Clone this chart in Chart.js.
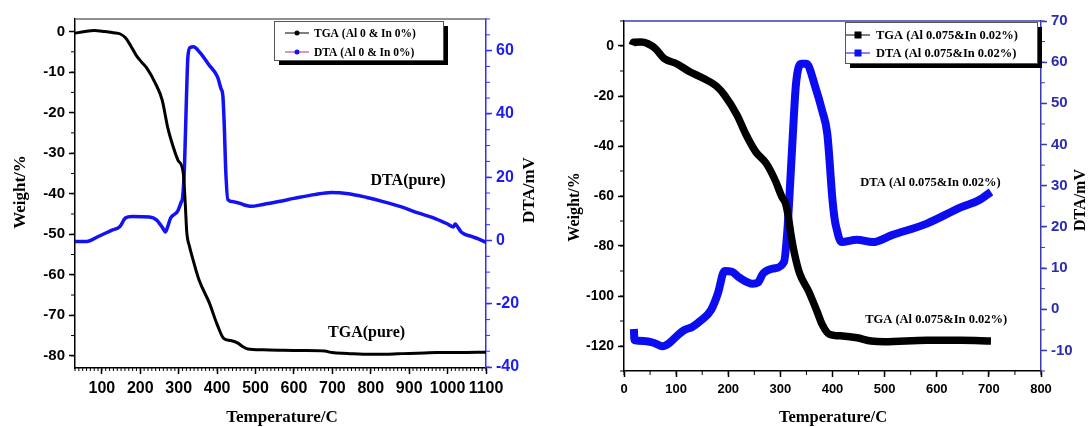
<!DOCTYPE html>
<html>
<head>
<meta charset="utf-8">
<script src="https://cdn.jsdelivr.net/npm/chart.js@4.4.1/dist/chart.umd.min.js"></script>
<style>
    html, body { margin: 0; padding: 0; background: #fff; }
    #wrap { position: relative; width: 1088px; height: 427px; overflow: hidden; }
    .panel { position: absolute; top: 0; width: 544px; height: 427px; }
</style>
</head>
<body>
<div id="wrap">
    <div class="panel" style="left:0"><canvas id="pureChart" width="544" height="427"></canvas></div>
    <div class="panel" style="left:544px"><canvas id="dopedChart" width="544" height="427"></canvas></div>
</div>
<script>
// ---- pure sample (Al 0 & In 0%) ----
const pureTgaTemp = [30, 55, 80, 107, 130, 148, 162, 175, 189, 203, 217, 239, 257, 271, 280, 298, 312, 317, 321, 328, 335, 353, 380, 399, 417, 435, 453, 468, 480, 520, 562, 620, 680, 699, 740, 781, 835, 870, 899, 940, 972, 1030, 1100];
const pureTgaWeight = [-0.4, 0, 0.25, 0, -0.3, -0.6, -1.6, -3.5, -5.8, -7.5, -9, -12.7, -16.9, -23.5, -26.7, -31.7, -35, -42.4, -49.5, -53, -55.5, -61.3, -67, -72, -75.7, -76.2, -76.8, -77.8, -78.3, -78.5, -78.6, -78.7, -78.8, -79.2, -79.4, -79.6, -79.6, -79.5, -79.4, -79.3, -79.2, -79.2, -79.1];
const pureDtaTemp = [30, 61, 88, 125, 147, 161, 179, 224, 242, 258, 265, 270, 279, 297, 306, 310, 315, 320, 324, 330, 338, 356, 378, 401, 410, 415, 419, 422, 428, 445, 469, 487, 520, 560, 600, 652, 697, 742, 790, 832, 880, 923, 960, 1000, 1015, 1020, 1025, 1036, 1062, 1080, 1100];
const pureDtaSignal = [-0.3, -0.3, 1.1, 3.2, 4.4, 7.1, 7.6, 7.4, 6.5, 4, 2.7, 3.9, 7.1, 9.2, 12, 13.5, 23.4, 44.5, 58.2, 61, 61.2, 59.3, 55.6, 51.7, 48, 45.6, 35, 23.4, 12.9, 12.2, 11.3, 10.8, 11.4, 12.3, 13.3, 14.5, 15.2, 14.8, 13.6, 12.3, 10.6, 8.7, 7.3, 5.2, 4.3, 5.2, 4.5, 2.6, 1.3, 0.5, -0.6];

// ---- doped sample (Al 0.075 & In 0.02%) ----
const dopedTgaTemp = [16, 18, 33, 46, 60, 77, 100, 127, 153, 177, 193, 217, 233, 253, 273, 290, 303, 310, 315, 320, 327, 337, 354, 370, 380, 394, 420, 447, 474, 500, 581, 647, 704];
const dopedTgaWeight = [0.3, 1.5, 1.6, 0.9, -1, -5, -7, -10.4, -13, -16, -19.7, -27.7, -35, -42.4, -47, -53.7, -60.4, -63, -68, -75, -83, -91, -98, -106, -111.3, -115.3, -116, -116.7, -118, -118.3, -117.7, -117.7, -118];
const dopedDtaTemp = [19, 20, 38, 58, 74, 87, 103, 115, 131, 148, 167, 180, 193, 207, 220, 247, 257, 267, 287, 307, 313, 317, 324, 330, 340, 350, 367, 380, 390, 400, 404, 407, 417, 447, 477, 514, 581, 647, 681, 704];
const dopedDtaSignal = [-4.8, -7.5, -7.7, -8.2, -9, -8.2, -6.3, -5.1, -4.3, -2.7, -0.2, 3.8, 9.3, 9.1, 7.8, 6.2, 6.5, 8.7, 9.9, 11.5, 18.4, 26.5, 42.6, 54.8, 59.6, 59.6, 54, 48.3, 42.6, 26.5, 22, 20, 16.3, 16.9, 16.3, 18, 20.8, 24.8, 26.5, 28.5];

// ---- tick labels ----
const pureTempTicks = [100, 200, 300, 400, 500, 600, 700, 800, 900, 1000, 1100];
const pureWeightTicks = [0, -10, -20, -30, -40, -50, -60, -70, -80];
const pureDtaTicks = [-40, -20, 0, 20, 40, 60];
const dopedTempTicks = [0, 100, 200, 300, 400, 500, 600, 700, 800];
const dopedWeightTicks = [0, -20, -40, -60, -80, -100, -120];
const dopedDtaTicks = [-10, 0, 10, 20, 30, 40, 50, 60, 70];

const SANS = '"Liberation Sans", Arial, sans-serif';
const SERIF = '"Liberation Serif", "Times New Roman", serif';

function toPoints(xs, ys) {
    return xs.map((x, i) => ({ x: x, y: ys[i] }));
}

function fixedTicks(values) {
    return scale => { scale.ticks = values.map(v => ({ value: v })); };
}

function axis(opts) {
    return {
        type: 'linear',
        position: opts.position,
        min: opts.min,
        max: opts.max,
        afterBuildTicks: fixedTicks(opts.ticks),
        afterFit: scale => {
            if (opts.position === 'bottom') scale.height = opts.size;
            else scale.width = opts.size;
        },
        border: { display: true, color: opts.color, width: 1.5 },
        grid: { drawOnChartArea: false, drawTicks: true, tickLength: 6, tickColor: opts.color, tickWidth: 1.5 },
        ticks: {
            autoSkip: false, maxRotation: 0, padding: opts.pad,
            color: opts.labelColor || opts.color,
            font: { family: SANS, size: opts.fontSize, weight: 'bold' },
            callback: value => String(value)
        }
    };
}

function drawMinorTicks(ctx, scale, step, len, color) {
    const n = Math.floor((scale.max - scale.min) / step + 1e-6);
    const start = Math.ceil(scale.min / step - 1e-6) * step;
    ctx.save();
    ctx.strokeStyle = color;
    ctx.lineWidth = 1;
    for (let i = 0; i <= n; i++) {
        const v = start + i * step;
        if (v > scale.max + 1e-6) break;
        const p = scale.getPixelForValue(v);
        ctx.beginPath();
        if (scale.isHorizontal()) {
            ctx.moveTo(p, scale.top); ctx.lineTo(p, scale.top + len);
        } else if (scale.position === 'left') {
            ctx.moveTo(scale.right, p); ctx.lineTo(scale.right - len, p);
        } else {
            ctx.moveTo(scale.left, p); ctx.lineTo(scale.left + len, p);
        }
        ctx.stroke();
    }
    ctx.restore();
}

function drawRotated(ctx, text, x, y, font) {
    ctx.save();
    ctx.translate(x, y);
    ctx.rotate(-Math.PI / 2);
    ctx.font = font;
    ctx.fillStyle = '#000';
    ctx.textAlign = 'center';
    ctx.textBaseline = 'middle';
    ctx.fillText(text, 0, 0);
    ctx.restore();
}

function drawLegend(ctx, chart, lg) {
    const { x, y, w, h } = lg.box;
    ctx.save();
    ctx.fillStyle = '#000';
    ctx.fillRect(x + 5, y + 5, w, h);
    ctx.fillStyle = '#fff';
    ctx.fillRect(x, y, w, h);
    ctx.strokeStyle = '#555';
    ctx.lineWidth = 1;
    ctx.strokeRect(x + 0.5, y + 0.5, w, h);
    ctx.font = lg.font;
    ctx.textBaseline = 'middle';
    chart.data.datasets.forEach((ds, i) => {
        const ry = y + lg.rows[i];
        ctx.strokeStyle = lg.lineColors[i];
        ctx.lineWidth = 1;
        ctx.beginPath();
        ctx.moveTo(x + lg.lineFrom, ry);
        ctx.lineTo(x + lg.lineTo, ry);
        ctx.stroke();
        ctx.fillStyle = ds.borderColor;
        const mx = x + (lg.lineFrom + lg.lineTo) / 2;
        if (lg.marker === 'square') {
            ctx.fillRect(mx - 3.5, ry - 3.5, 7, 7);
        } else {
            ctx.beginPath();
            ctx.arc(mx, ry, 2.5, 0, Math.PI * 2);
            ctx.fill();
        }
        ctx.fillStyle = '#000';
        ctx.fillText(ds.label, x + lg.textX, ry + 1);
    });
    ctx.restore();
}

// frame top line, minor ticks, axis titles, curve labels and the legend
const decorPlugin = {
    id: 'tgaDecor',
    afterDraw(chart, args, opts) {
        const ctx = chart.ctx;
        const area = chart.chartArea;
        ctx.save();
        ctx.strokeStyle = opts.topColor;
        ctx.lineWidth = 1.5;
        ctx.beginPath();
        ctx.moveTo(area.left, area.top);
        ctx.lineTo(area.right, area.top);
        ctx.stroke();
        ctx.restore();

        opts.minor.forEach(m => drawMinorTicks(ctx, chart.scales[m.id], m.step, m.len, m.color));

        opts.titles.forEach(t => {
            if (t.rotate) drawRotated(ctx, t.text, t.x, t.y, t.font);
            else {
                ctx.save();
                ctx.font = t.font;
                ctx.fillStyle = '#000';
                ctx.textAlign = 'center';
                ctx.textBaseline = 'middle';
                ctx.fillText(t.text, t.x, t.y);
                ctx.restore();
            }
        });

        opts.notes.forEach(n => {
            const px = chart.scales.x.getPixelForValue(n.x);
            const py = chart.scales[n.axis].getPixelForValue(n.y);
            ctx.save();
            ctx.font = n.font;
            ctx.fillStyle = '#000';
            ctx.textAlign = 'center';
            ctx.textBaseline = 'middle';
            ctx.fillText(n.text, px, py);
            ctx.restore();
        });

        drawLegend(ctx, chart, opts.legend);
    }
};

function makeChart(canvasId, cfg) {
    return new Chart(document.getElementById(canvasId), {
        type: 'line',
        data: { datasets: cfg.datasets },
        options: {
            responsive: false,
            animation: false,
            devicePixelRatio: 1,
            layout: { padding: { top: cfg.top, left: 0, right: 0, bottom: 0 } },
            scales: cfg.scales,
            plugins: { legend: { display: false }, tooltip: { enabled: false }, tgaDecor: cfg.decor }
        },
        plugins: [decorPlugin]
    });
}

function series(label, xs, ys, color, width, axisId) {
    return {
        label: label,
        data: toPoints(xs, ys),
        yAxisID: axisId,
        borderColor: color,
        backgroundColor: color,
        borderWidth: width,
        pointRadius: 0,
        fill: false,
        cubicInterpolationMode: 'monotone'
    };
}

const PURE_BLUE = '#1212f2';
const DOPED_BLUE = '#0c0cf0';

makeChart('pureChart', {
    top: 19,
    datasets: [
        series('TGA (Al 0 & In 0%)', pureTgaTemp, pureTgaWeight, '#000', 3, 'y'),
        series('DTA (Al 0 & In 0%)', pureDtaTemp, pureDtaSignal, PURE_BLUE, 3.5, 'y2')
    ],
    scales: {
        x: axis({ position: 'bottom', min: 30, max: 1100, ticks: pureTempTicks, size: 59, color: '#000', pad: 5, fontSize: 16 }),
        y: axis({ position: 'left', min: -83, max: 3.1, ticks: pureWeightTicks, size: 75, color: '#000', pad: 4, fontSize: 15 }),
        y2: axis({ position: 'right', min: -40.3, max: 70, ticks: pureDtaTicks, size: 58, color: '#2e2eff', labelColor: '#1d1df0', pad: 4, fontSize: 16 })
    },
    decor: {
        topColor: '#6b6b6b',
        minor: [
            { id: 'x', step: 10, len: 3, color: '#000' },
            { id: 'y', step: 5, len: 4, color: '#000' },
            { id: 'y2', step: 5, len: 4, color: '#2e2eff' }
        ],
        titles: [
            { text: 'Weight/%', x: 21, y: 192, rotate: true, font: 'bold 17px ' + SERIF },
            { text: 'DTA/mV', x: 530, y: 190, rotate: true, font: 'bold 17px ' + SERIF },
            { text: 'Temperature/C', x: 282, y: 418, font: 'bold 17px ' + SERIF }
        ],
        notes: [
            { text: 'DTA(pure)', x: 897, y: 18.7, axis: 'y2', font: 'bold 16px ' + SERIF },
            { text: 'TGA(pure)', x: 789, y: -74.4, axis: 'y', font: 'bold 16px ' + SERIF }
        ],
        legend: {
            box: { x: 274, y: 21, w: 169, h: 39 },
            rows: [12, 31],
            lineFrom: 11, lineTo: 35, textX: 40,
            lineColors: ['#000', '#b0308c'],
            marker: 'dot',
            font: 'bold 11.5px ' + SERIF
        }
    }
});

makeChart('dopedChart', {
    top: 21,
    datasets: [
        series('TGA (Al 0.075&In 0.02%)', dopedTgaTemp, dopedTgaWeight, '#000', 7.5, 'y'),
        series('DTA (Al 0.075&In 0.02%)', dopedDtaTemp, dopedDtaSignal, DOPED_BLUE, 8, 'y2')
    ],
    scales: {
        x: axis({ position: 'bottom', min: 0, max: 800, ticks: dopedTempTicks, size: 56, color: '#000', pad: 5, fontSize: 13 }),
        y: axis({ position: 'left', min: -130, max: 10, ticks: dopedWeightTicks, size: 80, color: '#000', pad: 4, fontSize: 14 }),
        y2: axis({ position: 'right', min: -15, max: 70, ticks: dopedDtaTicks, size: 47, color: '#3b3bb0', labelColor: '#2c2cb0', pad: 4, fontSize: 15 })
    },
    decor: {
        topColor: '#3b3bb0',
        minor: [
            { id: 'x', step: 50, len: 4, color: '#000' },
            { id: 'y', step: 10, len: 4, color: '#000' },
            { id: 'y2', step: 5, len: 4, color: '#3b3bb0' }
        ],
        titles: [
            { text: 'Weight/%', x: 31, y: 207, rotate: true, font: 'bold 16px ' + SERIF },
            { text: 'DTA/mV', x: 537, y: 200, rotate: true, font: 'bold 16px ' + SERIF },
            { text: 'Temperature/C', x: 289, y: 418, font: 'bold 16.5px ' + SERIF }
        ],
        notes: [
            { text: 'DTA (Al 0.075&In 0.02%)', x: 588, y: 30.6, axis: 'y2', font: 'bold 12.5px ' + SERIF },
            { text: 'TGA (Al 0.075&In 0.02%)', x: 599, y: -109.7, axis: 'y', font: 'bold 12.5px ' + SERIF }
        ],
        legend: {
            box: { x: 301, y: 22, w: 192, h: 41 },
            rows: [13, 31],
            lineFrom: 1, lineTo: 25, textX: 31,
            lineColors: ['#000', DOPED_BLUE],
            marker: 'square',
            font: 'bold 12.5px ' + SERIF
        }
    }
});
</script>
</body>
</html>
